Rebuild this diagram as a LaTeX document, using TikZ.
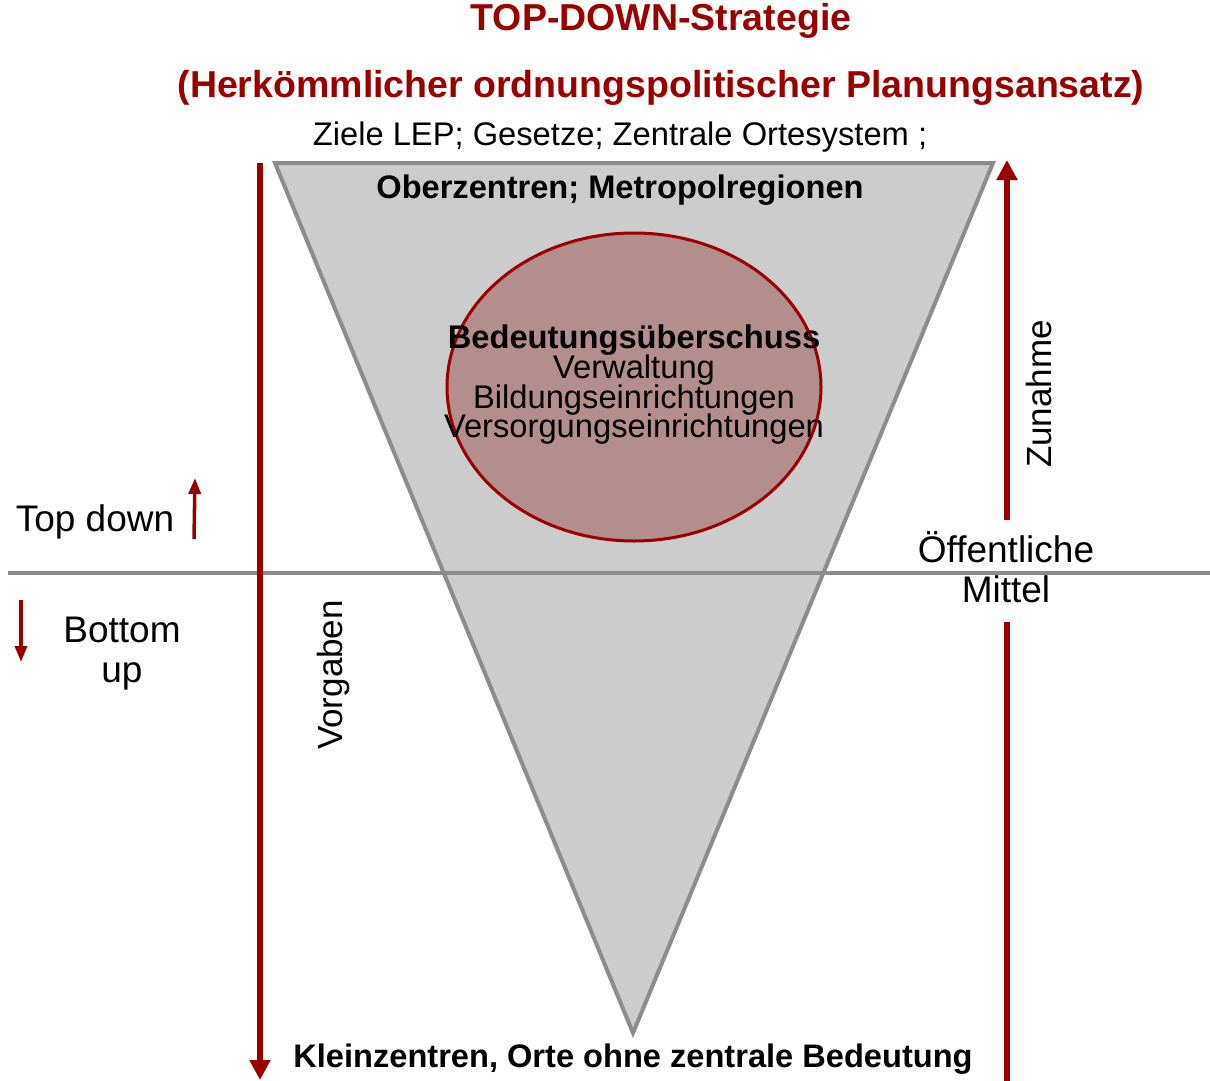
\documentclass[tikz,border=0pt]{standalone}
\usepackage{fontspec}
\setmainfont{Liberation Sans}
\usetikzlibrary{arrows.meta,shapes.geometric}
\definecolor{dred}{HTML}{990000}
\definecolor{funnelfill}{HTML}{CCCCCC}
\definecolor{funnelline}{HTML}{8C8C8C}
\definecolor{corefill}{HTML}{B48E8C}
\begin{document}
\begin{tikzpicture}[x=1pt,y=-1pt,
  title/.style={text=dred,font=\bfseries\fontsize{37.5}{40}\selectfont,inner sep=0pt,anchor=base},
  plain/.style={font=\fontsize{32.7}{29}\selectfont,inner sep=0pt,anchor=base},
  boldlabel/.style={font=\bfseries\fontsize{32.6}{29}\selectfont,inner sep=0pt,anchor=base},
  sidelabel/.style={font=\fontsize{37}{40}\selectfont,inner sep=0pt,anchor=base,align=center},
  rotlabel/.style={font=\fontsize{35}{40}\selectfont,inner sep=0pt,rotate=90},
  bigarrow/.style={draw=dred,line width=6pt,-{Triangle[length=20pt,width=20pt]}},
  bigline/.style={draw=dred,line width=6pt},
  smallarrow/.style={draw=dred,line width=3.5pt,-{Triangle[length=16pt,width=12pt]}},
  divider/.style={draw=funnelline,line width=4pt}]
\useasboundingbox (0,0) rectangle (1210,1081);

% funnel
\coordinate (tl) at (275,163);
\coordinate (tr) at (993,163);
\coordinate (apex) at (633,1033);
\fill[funnelfill] (tl) -- (tr) -- (apex) -- cycle;

% separating line between top-down and bottom-up
\coordinate (divL) at (8,573);
\coordinate (divR) at (1210,573);
\draw[divider] (divL) -- (divR);

% funnel outline
\draw[funnelline,line width=4pt,line join=miter] (tl) -- (tr) -- (apex) -- cycle;

% core ellipse
\node[draw=dred,fill=corefill,line width=3pt,ellipse,inner sep=0pt,
      minimum width=374pt,minimum height=308pt] (core) at (634,387) {};
\node[plain,align=center,anchor=north] (coretext) at (634,325)
  {\textbf{Bedeutungsüberschuss}\\[-2pt]Verwaltung\\[-2pt]Bildungseinrichtungen\\[-2pt]Versorgungseinrichtungen};

% titles
\node[title] (t1) at (661,31) {TOP-DOWN-Strategie};
\node[title] (t2) at (661,97) {(Herkömmlicher ordnungspolitischer Planungsansatz)};
\node[plain] (t3) at (620,145) {Ziele LEP; Gesetze; Zentrale Ortesystem ;};

\node[boldlabel] (top) at (620,198) {Oberzentren; Metropolregionen};
\node[boldlabel] (bottom) at (633,1067) {Kleinzentren, Orte ohne zentrale Bedeutung};

% left arrow: Vorgaben
\coordinate (vgS) at (260,163);
\coordinate (vgE) at (260,1080);
\draw[bigarrow] (vgS) -- (vgE);
\node[rotlabel] (vorgaben) at (333,675) {Vorgaben};

% right arrow: Zunahme / Öffentliche Mittel
\node[sidelabel] (mittel) at (1006,602) {Öffentliche\\Mittel};
\coordinate (znS) at (1007,520);
\coordinate (znE) at (1007,160);
\coordinate (znTop) at (1007,622);
\coordinate (znLow) at (1007,1081);
\draw[bigarrow] (znS) -- (znE);
\draw[bigline] (znTop) -- (znLow);
\node[rotlabel] (zunahme) at (1039,394) {Zunahme};

% Top down / Bottom up
\node[sidelabel] (topdown) at (95,531) {Top down};
\coordinate (tdS) at (194,539);
\coordinate (tdE) at (195,478);
\draw[smallarrow] (tdS) -- (tdE);
\node[sidelabel] (bottomup) at (122,682) {Bottom\\up};
\coordinate (buS) at (21,600);
\coordinate (buE) at (21,662);
\draw[smallarrow] (buS) -- (buE);
\end{tikzpicture}
\end{document}
